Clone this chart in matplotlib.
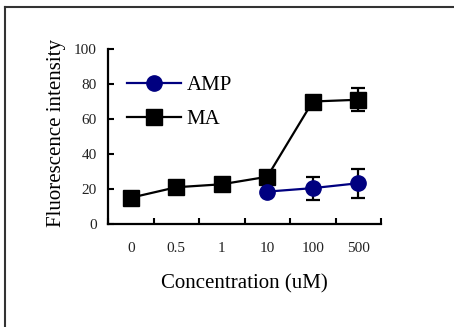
import matplotlib
matplotlib.use("Agg")
import matplotlib.pyplot as plt
from matplotlib.lines import Line2D
import numpy as np

categories = ["0", "0.5", "1", "10", "100", "500"]
ma_values = [15, 21, 22.7, 27, 70, 71]
ma_err = [0, 0, 0, 0, 0, 6.5]
amp_categories = ["10", "100", "500"]
amp_values = [18.5, 20.5, 23.3]
amp_err = [0, 6.5, 8.3]
yticks = [0, 20, 40, 60, 80, 100]

plt.rcParams['font.family'] = ['Liberation Serif', 'DejaVu Serif']

W, H = 454, 327
fig = plt.figure(figsize=(W / 100, H / 100), dpi=100)
ax = fig.add_axes([108 / W, 1 - 224 / H, (381 - 108) / W, (224 - 49) / H])

x_all = np.arange(len(categories))
x_amp = np.array([categories.index(c) for c in amp_categories])

ma_style = dict(color='black', lw=1.6, marker='s', ms=11.5, mfc='black', mec='black')
amp_style = dict(color='#000080', lw=1.6, marker='o', ms=11, mfc='#000080', mec='#000080')

ax.errorbar(x_all, ma_values, yerr=ma_err, ecolor='black', elinewidth=1.6,
            capsize=5, capthick=1.6, zorder=3, **ma_style)
ax.errorbar(x_amp, amp_values, yerr=amp_err, ecolor='black', elinewidth=1.6,
            capsize=5, capthick=1.6, zorder=4, **amp_style)

ax.set_xlim(-0.5, len(categories) - 0.5)
ax.set_ylim(0, 100)
ax.set_yticks(yticks)
ax.set_yticklabels([str(v) for v in yticks])
ax.set_xticks(np.arange(len(categories) + 1) - 0.5)
ax.set_xticklabels([])
ax.set_xticks(x_all, minor=True)
ax.set_xticklabels(categories, minor=True)
ax.tick_params(axis='x', which='major', direction='in', length=4, width=1.5)
ax.tick_params(axis='x', which='minor', length=0, pad=13, labelsize=11, labelcolor='#222222')
ax.tick_params(axis='y', direction='in', length=4, width=1.5, pad=8, labelsize=11, labelcolor='#222222')

for s in ['top', 'right']:
    ax.spines[s].set_visible(False)
for s in ['left', 'bottom']:
    ax.spines[s].set_linewidth(1.6)

ax.set_ylabel('Fluorescence intensity', fontsize=15)
ax.yaxis.set_label_coords(-0.155, 0.52)
ax.set_xlabel('Concentration (uM)', fontsize=15, va='center')
ax.xaxis.set_label_coords(0.5, -0.343)

h_amp = Line2D([], [], **amp_style)
h_ma = Line2D([], [], **ma_style)
leg = ax.legend([h_amp, h_ma], ['AMP', 'MA'],
                loc='upper left', bbox_to_anchor=(0.07, 0.85), frameon=False,
                fontsize=15, handlelength=2.6, handletextpad=0.25,
                labelspacing=0.7, borderpad=0, borderaxespad=0)

# figure border (top and left edges)
fig.add_artist(Line2D([5 / W, 1], [1 - 7 / H, 1 - 7 / H], color='#333333', lw=1.5,
                      transform=fig.transFigure))
fig.add_artist(Line2D([5 / W, 5 / W], [0, 1 - 7 / H], color='#333333', lw=1.5,
                      transform=fig.transFigure))

fig.savefig('out.png', dpi=100)
